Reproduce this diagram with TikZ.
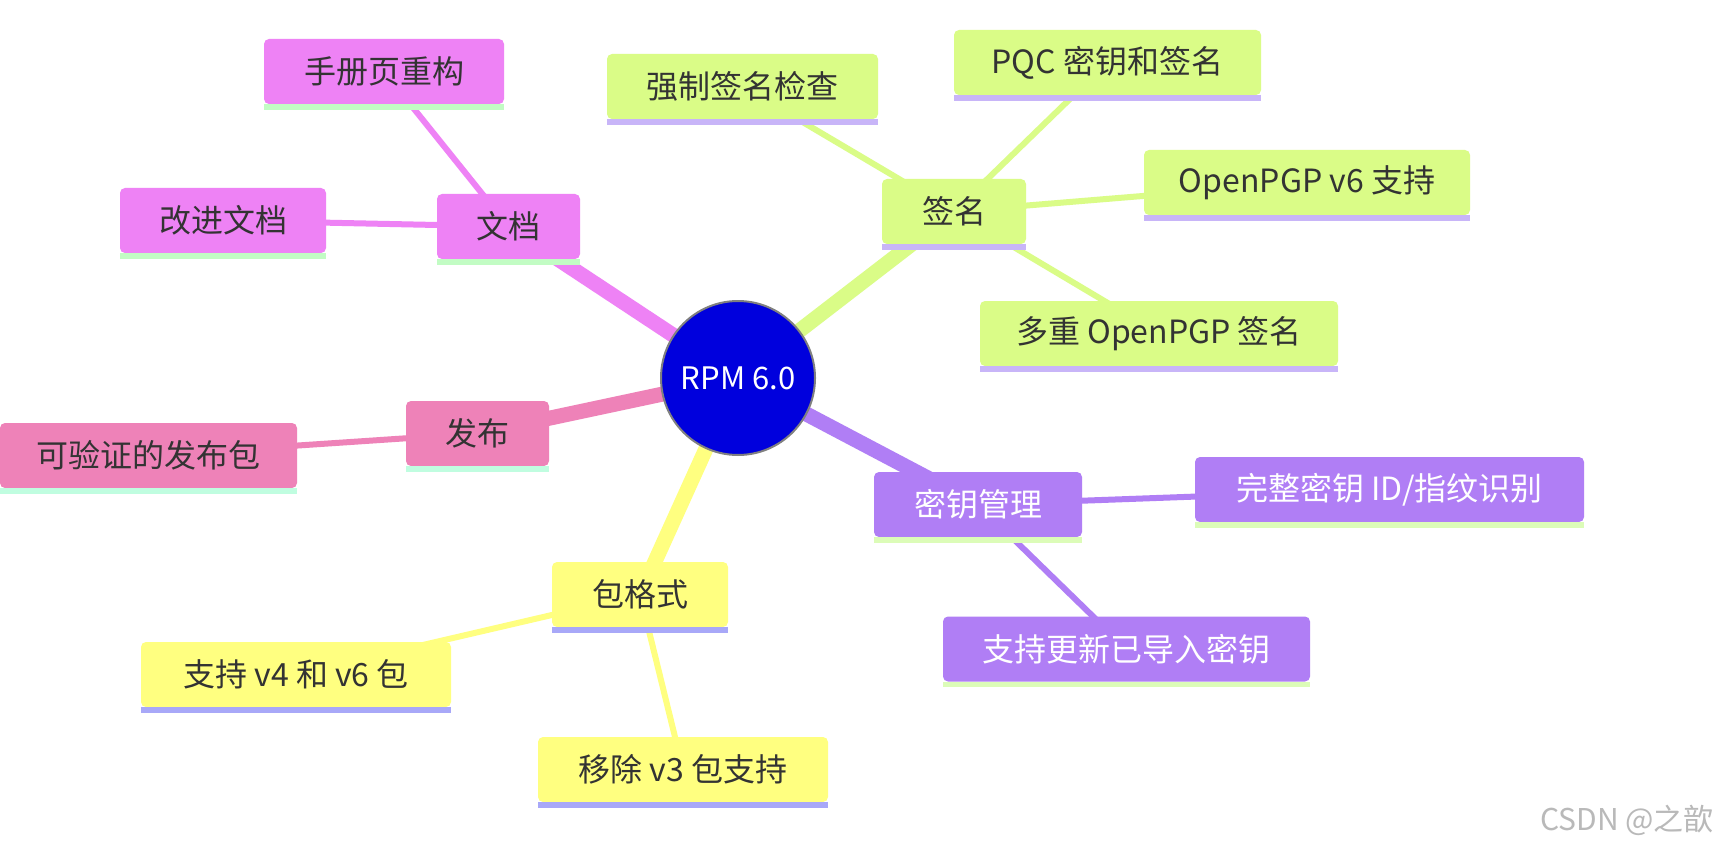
\documentclass[tikz,border=0pt]{standalone}
\usepackage{fontspec}
\setmainfont{Noto Sans CJK SC}
\usetikzlibrary{backgrounds}
\definecolor{cDoc}{HTML}{EE82F5}
\definecolor{bDoc}{HTML}{C2FCC4}
\definecolor{cSig}{HTML}{DAFC87}
\definecolor{bSig}{HTML}{C8B5F8}
\definecolor{cKey}{HTML}{B07EF5}
\definecolor{bKey}{HTML}{DCFCB8}
\definecolor{cRel}{HTML}{EE82B8}
\definecolor{bRel}{HTML}{C0FDE0}
\definecolor{cPkg}{HTML}{FFFF80}
\definecolor{bPkg}{HTML}{A8A8F8}
\definecolor{rootblue}{HTML}{0000DD}
\definecolor{txtdark}{HTML}{333333}
\newcommand\mmbox[8]{%
  \node[mbox, fill=#5, text=#7, minimum width=#4pt] (#1) at (#2,#3) {#8};
  \fill[#6] (#1.south west) rectangle ([yshift=-5.5pt]#1.south east);
}
\begin{document}
\begin{tikzpicture}[x=1pt,y=-1pt,
  mbox/.style={rounded corners=5pt, minimum height=65pt, inner sep=0pt,
    font=\fontsize{32}{38}\selectfont},
  edgeA/.style={line width=15pt},
  edgeB/.style={line width=6pt}]
\useasboundingbox (0,0) rectangle (1720,850);

\node[circle, fill=rootblue, draw=gray, line width=2pt, minimum size=154pt,
  inner sep=0pt, text=white, font=\fontsize{31}{36}\selectfont] (root) at (738,378) {RPM 6.0};

% documentation
\mmbox{doc}{508.5}{226.5}{143}{cDoc}{bDoc}{txtdark}{文档}
\mmbox{man}{384}{71.5}{240}{cDoc}{bDoc}{txtdark}{手册页重构}
\mmbox{imp}{223}{220.5}{206}{cDoc}{bDoc}{txtdark}{改进文档}
% signatures
\mmbox{sig}{954}{211.5}{144}{cSig}{bSig}{txtdark}{签名}
\mmbox{force}{742.5}{86.5}{271}{cSig}{bSig}{txtdark}{强制签名检查}
\mmbox{pqc}{1107.5}{62.5}{307}{cSig}{bSig}{txtdark}{PQC 密钥和签名}
\mmbox{v6}{1307}{182.5}{326}{cSig}{bSig}{txtdark}{OpenPGP v6 支持}
\mmbox{multi}{1159}{333.5}{358}{cSig}{bSig}{txtdark}{多重 OpenPGP 签名}
% key management
\mmbox{key}{978}{504.5}{208}{cKey}{bKey}{white}{密钥管理}
\mmbox{fullid}{1389.5}{489.5}{389}{cKey}{bKey}{white}{完整密钥 ID/指纹识别}
\mmbox{upd}{1126.5}{649}{367}{cKey}{bKey}{white}{支持更新已导入密钥}
% release
\mmbox{rel}{477.5}{433.5}{143}{cRel}{bRel}{txtdark}{发布}
\mmbox{verif}{148.5}{455.5}{297}{cRel}{bRel}{txtdark}{可验证的发布包}
% package format
\mmbox{pkg}{640}{594.5}{176}{cPkg}{bPkg}{txtdark}{包格式}
\mmbox{vfour}{296}{674.5}{310}{cPkg}{bPkg}{txtdark}{支持 v4 和 v6 包}
\mmbox{rmv}{683}{769.5}{290}{cPkg}{bPkg}{txtdark}{移除 v3 包支持}

\node[text=gray!55, font=\fontsize{30}{34}\selectfont, anchor=east, inner sep=0pt] (wm) at (1714,820) {CSDN @之歆};

\begin{scope}[on background layer]
  \fill[white] (0,0) rectangle (1720,850);
  \draw[edgeA, cDoc] (root.center) -- (doc.center);
  \draw[edgeA, cSig] (root.center) -- (sig.center);
  \draw[edgeA, cKey] (root.center) -- (key.center);
  \draw[edgeA, cRel] (root.center) -- (rel.center);
  \draw[edgeA, cPkg] (root.center) -- (pkg.center);
  \draw[edgeB, cDoc] (doc.center) -- (man.center);
  \draw[edgeB, cDoc] (doc.center) -- (imp.center);
  \draw[edgeB, cSig] (sig.center) -- (force.center);
  \draw[edgeB, cSig] (sig.center) -- (pqc.center);
  \draw[edgeB, cSig] (sig.center) -- (v6.center);
  \draw[edgeB, cSig] (sig.center) -- (multi.center);
  \draw[edgeB, cKey] (key.center) -- (fullid.center);
  \draw[edgeB, cKey] (key.center) -- (upd.center);
  \draw[edgeB, cRel] (rel.center) -- (verif.center);
  \draw[edgeB, cPkg] (pkg.center) -- (vfour.center);
  \draw[edgeB, cPkg] (pkg.center) -- (rmv.center);
\end{scope}
\end{tikzpicture}
\end{document}
